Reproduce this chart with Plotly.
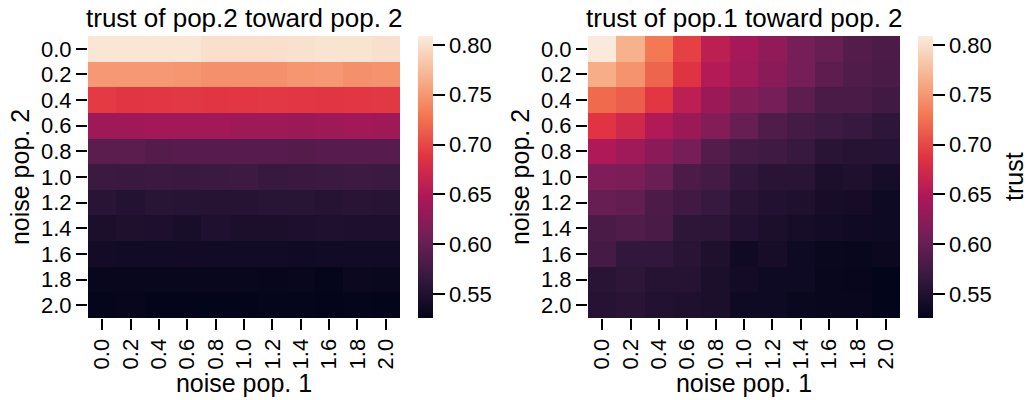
import plotly.graph_objects as go

# eixos: ruido das duas populacoes
noise_pop1 = ["0.0", "0.2", "0.4", "0.6", "0.8", "1.0", "1.2", "1.4", "1.6", "1.8", "2.0"]
noise_pop2 = ["0.0", "0.2", "0.4", "0.6", "0.8", "1.0", "1.2", "1.4", "1.6", "1.8", "2.0"]

# trust of pop.2 toward pop. 2 (linhas = noise pop. 2, colunas = noise pop. 1)
trust_22 = [
    [0.805, 0.805, 0.805, 0.805, 0.800, 0.800, 0.800, 0.802, 0.803, 0.803, 0.801],
    [0.750, 0.750, 0.750, 0.749, 0.746, 0.746, 0.746, 0.749, 0.750, 0.746, 0.747],
    [0.692, 0.689, 0.690, 0.691, 0.689, 0.690, 0.691, 0.690, 0.689, 0.690, 0.691],
    [0.637, 0.638, 0.640, 0.640, 0.640, 0.637, 0.637, 0.636, 0.637, 0.640, 0.638],
    [0.592, 0.592, 0.588, 0.590, 0.590, 0.590, 0.590, 0.588, 0.590, 0.590, 0.590],
    [0.570, 0.569, 0.570, 0.569, 0.570, 0.571, 0.568, 0.569, 0.570, 0.571, 0.570],
    [0.557, 0.553, 0.556, 0.555, 0.554, 0.554, 0.556, 0.556, 0.554, 0.557, 0.555],
    [0.546, 0.549, 0.547, 0.544, 0.548, 0.546, 0.546, 0.547, 0.548, 0.547, 0.547],
    [0.540, 0.538, 0.538, 0.539, 0.538, 0.538, 0.538, 0.537, 0.538, 0.538, 0.538],
    [0.530, 0.531, 0.531, 0.530, 0.530, 0.531, 0.529, 0.530, 0.528, 0.533, 0.532],
    [0.528, 0.529, 0.527, 0.527, 0.526, 0.527, 0.528, 0.528, 0.527, 0.528, 0.526],
]

# trust of pop.1 toward pop. 2
trust_12 = [
    [0.808, 0.767, 0.730, 0.696, 0.659, 0.642, 0.628, 0.611, 0.600, 0.588, 0.583],
    [0.764, 0.747, 0.718, 0.687, 0.653, 0.639, 0.625, 0.611, 0.594, 0.585, 0.580],
    [0.721, 0.713, 0.690, 0.659, 0.636, 0.619, 0.611, 0.594, 0.580, 0.580, 0.574],
    [0.688, 0.673, 0.651, 0.636, 0.619, 0.600, 0.585, 0.577, 0.571, 0.568, 0.560],
    [0.650, 0.639, 0.625, 0.611, 0.588, 0.577, 0.573, 0.568, 0.557, 0.554, 0.554],
    [0.617, 0.614, 0.602, 0.583, 0.577, 0.563, 0.557, 0.557, 0.546, 0.549, 0.543],
    [0.600, 0.597, 0.583, 0.574, 0.568, 0.557, 0.551, 0.549, 0.543, 0.541, 0.536],
    [0.580, 0.585, 0.580, 0.560, 0.559, 0.551, 0.546, 0.543, 0.540, 0.537, 0.536],
    [0.577, 0.563, 0.563, 0.557, 0.549, 0.537, 0.543, 0.536, 0.532, 0.530, 0.533],
    [0.557, 0.560, 0.554, 0.554, 0.546, 0.540, 0.536, 0.536, 0.530, 0.529, 0.526],
    [0.554, 0.557, 0.551, 0.549, 0.546, 0.536, 0.536, 0.532, 0.530, 0.530, 0.526],
]

# escala "rocket" do seaborn (aproximada)
rocket = [
    [0.0, "#03051a"], [1 / 7, "#35193e"], [2 / 7, "#701f57"], [3 / 7, "#ad1759"],
    [4 / 7, "#e13342"], [5 / 7, "#f37651"], [6 / 7, "#f6b48f"], [1.0, "#faebdd"],
]

ZMIN, ZMAX = 0.526, 0.809
FAM = "Liberation Sans, Arial, sans-serif"
TICKF = dict(family=FAM, size=22, color="black")
LABF = dict(family=FAM, size=25, color="black")
TITF = dict(family=FAM, size=26, color="black")
W, H = 1027, 400


# pixel da pagina -> coordenada paper
def px(x):
    return x / W


def py(y):
    return 1 - y / H


Y0, Y1 = py(318), py(36)


def heat(z, xa, ya, cb_x):
    return go.Heatmap(z=z, x=noise_pop1, y=noise_pop2, xaxis=xa, yaxis=ya,
                      colorscale=rocket, zmin=ZMIN, zmax=ZMAX,
                      colorbar=dict(x=cb_x, xanchor="left", xref="paper", xpad=0, ypad=0,
                                    y=(Y0 + Y1) / 2, len=Y1 - Y0, lenmode="fraction",
                                    thickness=15, outlinewidth=0,
                                    tickvals=[0.55, 0.60, 0.65, 0.70, 0.75, 0.80],
                                    ticktext=["0.55", "0.60", "0.65", "0.70", "0.75", "0.80"],
                                    ticks="outside", ticklen=12, tickwidth=2, tickcolor="black",
                                    tickfont=TICKF))


fig = go.Figure()
fig.add_trace(heat(trust_22, "x", "y", px(418)))
fig.add_trace(heat(trust_12, "x2", "y2", px(918)))

axis_x = dict(type="category", tickmode="array", tickvals=noise_pop1, tickangle=-90,
              ticks="outside", ticklen=11, tickwidth=2,
              tickcolor="black", tickfont=TICKF, showgrid=False, zeroline=False, showline=False,
              automargin=False, title=dict(text="noise pop. 1", font=LABF, standoff=0))
axis_y = dict(type="category", tickmode="array", tickvals=noise_pop2, autorange="reversed",
              ticks="outside", ticklen=11, tickwidth=2,
              tickcolor="black", tickfont=TICKF, showgrid=False, zeroline=False, showline=False,
              automargin=False, title=dict(text="noise pop. 2", font=LABF, standoff=4))


def label(text, x, y, font, angle=0):
    return dict(text=text, x=px(x), y=py(y), xref="paper", yref="paper", showarrow=False,
                font=font, xanchor="center", yanchor="middle", textangle=angle)


fig.update_layout(
    width=W, height=H, margin=dict(l=0, r=0, t=0, b=0),
    paper_bgcolor="white", plot_bgcolor="white", font=TICKF,
    xaxis=dict(axis_x, domain=[px(88), px(400)], anchor="y"),
    yaxis=dict(axis_y, domain=[Y0, Y1], anchor="x"),
    xaxis2=dict(axis_x, domain=[px(588), px(900)], anchor="y2"),
    yaxis2=dict(axis_y, domain=[Y0, Y1], anchor="x2"),
    annotations=[
        label("trust of pop.2 toward pop. 2", 244, 18, TITF),
        label("trust of pop.1 toward pop. 2", 744, 18, TITF),
        label("trust", 1014, 177, LABF, -90),
    ],
)

# sem a margem padrao do <body>, para o grafico ocupar a janela inteira
fig.write_html("out.html", config={"displayModeBar": False},
               post_script="document.body.style.margin = '0';")
